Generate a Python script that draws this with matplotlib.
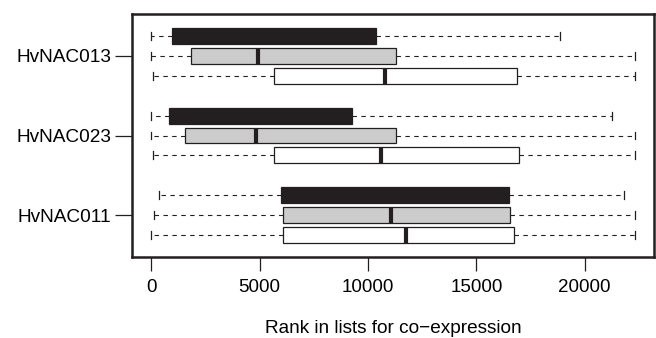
import matplotlib.pyplot as plt

plt.rcParams['font.family'] = ['Liberation Sans', 'DejaVu Sans']

genes = ["HvNAC011", "HvNAC023", "HvNAC013"]
series_colors = ["white", "#cccccc", "#231f20"]

# five-number summaries per gene: [whisker low, q1, median, q3, whisker high]
white_stats = [
    [0, 6075, 11770, 16735, 22305],
    [75, 5660, 10615, 16950, 22305],
    [75, 5660, 10770, 16875, 22305],
]
gray_stats = [
    [120, 6075, 11075, 16535, 22305],
    [0, 1540, 4845, 11275, 22305],
    [0, 1815, 4920, 11275, 22305],
]
black_stats = [
    [350, 5970, 11000, 16490, 21810],
    [0, 800, 4500, 9260, 21275],
    [0, 970, 5000, 10385, 18845],
]

xticks = [0, 5000, 10000, 15000, 20000]
xlabel = "Rank in lists for co\u2212expression"

dark = "#231f20"

fig = plt.figure(figsize=(6.56, 3.38), dpi=100)
ax = fig.add_axes([0.2012, 0.2396, 0.7958, 0.719])

for g, gene in enumerate(genes):
    base = g * 4 + 1
    for k, (stats, color) in enumerate(zip([white_stats, gray_stats, black_stats], series_colors)):
        lo, q1, med, q3, hi = stats[g]
        st = [dict(whislo=lo, q1=q1, med=med, q3=q3, whishi=hi, fliers=[])]
        ax.bxp(st, positions=[base + k], widths=0.8, vert=False,
               patch_artist=True, showfliers=False, capwidths=0.4,
               boxprops=dict(facecolor=color, edgecolor=dark, linewidth=0.9),
               medianprops=dict(color=dark, linewidth=3, solid_capstyle="butt"),
               whiskerprops=dict(color=dark, linewidth=0.8, linestyle=(0, (4, 4))),
               capprops=dict(color=dark, linewidth=0.9))

ax.set_xlim(-892, 23197)
ax.set_ylim(-0.1, 12.1)
ax.set_yticks([2, 6, 10])
ax.set_yticklabels(genes, fontsize=13.7)
ax.set_xticks(xticks)
ax.set_xticklabels([str(t) for t in xticks], fontsize=13.5)
ax.tick_params(axis="x", length=10, width=0.9, pad=6, color=dark)
ax.tick_params(axis="y", length=12, width=0.9, pad=3, color=dark)
for s in ax.spines.values():
    s.set_linewidth(1.8)
    s.set_color(dark)

fig.text(0.599, 0.0148, xlabel, ha="center", va="baseline", fontsize=13.7)

fig.savefig("out.png", dpi=100)
